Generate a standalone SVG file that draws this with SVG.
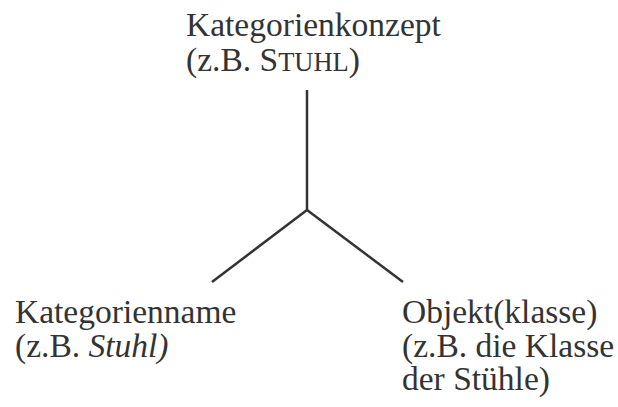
<svg xmlns="http://www.w3.org/2000/svg" width="618" height="407" viewBox="0 0 618 407">
  <style>
    text { font-family: "Liberation Serif", "Times New Roman", serif; font-size: 33.5px; fill: #333; }
    .sc { font-size: 26.5px; }
    .it { font-style: italic; }
    .edge { stroke: #333; stroke-width: 2.5; fill: none; stroke-linecap: butt; }
  </style>
  <rect width="618" height="407" fill="#fff"/>
  <g id="connectors">
    <line class="edge" x1="307" y1="90" x2="307" y2="210"/>
    <line class="edge" x1="307" y1="210" x2="212" y2="282"/>
    <line class="edge" x1="307" y1="210" x2="403" y2="282"/>
  </g>
  <g id="konzept">
    <text x="186" y="36">Kategorienkonzept</text>
    <text x="186" y="71">(z.B. S<tspan class="sc">TUHL</tspan>)</text>
  </g>
  <g id="name">
    <text x="15" y="323">Kategorienname</text>
    <text x="15" y="357">(z.B. <tspan class="it">Stuhl)</tspan></text>
  </g>
  <g id="objekt">
    <text x="402" y="323">Objekt(klasse)</text>
    <text x="402" y="357">(z.B. die Klasse</text>
    <text x="402" y="390">der Stühle)</text>
  </g>
</svg>
